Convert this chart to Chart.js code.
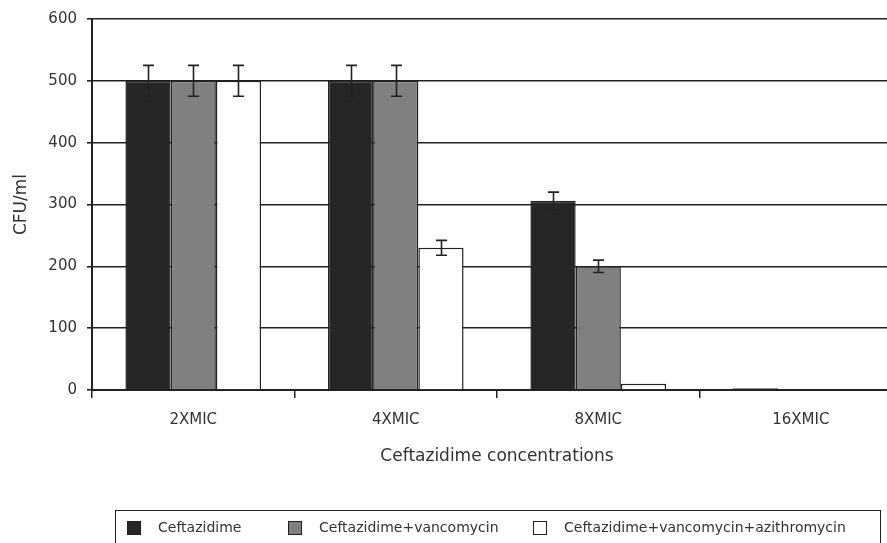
<!DOCTYPE html>
<html lang="en">
<head>
  <meta charset="UTF-8">
  <title>CFU/ml vs Ceftazidime concentrations</title>
  <script src="https://cdn.jsdelivr.net/npm/chart.js"></script>
  <style>
    body { margin: 0; overflow: hidden; background: white; font-family: "DejaVu Sans", sans-serif; }
    #wrap { position: relative; width: 887px; height: 543px; overflow: hidden; }
    #chart { position: absolute; left: 0; top: 0; }
    #legend {
      position: absolute; left: 115px; top: 510px; width: 766px; height: 40px;
      border: 1.5px solid #222; box-sizing: border-box; color: #333; font-size: 14px;
    }
    #legend span.sw { position: absolute; top: 10px; width: 14px; height: 14px; box-sizing: border-box; border: 1.5px solid #222; }
    #legend span.lb { position: absolute; top: 8px; white-space: nowrap; }
  </style>
</head>
<body>
<div id="wrap">
  <canvas id="chart" width="905" height="543"></canvas>
  <div id="legend"></div>
</div>

<script>
// data
let categories = ["2XMIC", "4XMIC", "8XMIC", "16XMIC"];
let seriesNames = ["Ceftazidime", "Ceftazidime+vancomycin", "Ceftazidime+vancomycin+azithromycin"];
let ceftazidime = [500, 500, 306, 3];
let ceftVanco = [500, 500, 200, 0];
let ceftVancoAzi = [500, 230, 10, 0];
let errCeftazidime = [25, 25, 14, 0];
let errCeftVanco = [25, 25, 10, 0];
let errCeftVancoAzi = [25, 12, 0, 0];
let yTicks = [0, 100, 200, 300, 400, 500, 600];

let fills = ["#262626", "#808080", "#ffffff"];
let lineCol = "#222";

// simple error bar plugin
const errorBars = {
  id: "errorBars",
  afterDatasetsDraw(chart) {
    const ctx = chart.ctx;
    const y = chart.scales.y;
    ctx.save();
    ctx.strokeStyle = lineCol;
    ctx.lineWidth = 1.6;
    chart.data.datasets.forEach((ds, di) => {
      const meta = chart.getDatasetMeta(di);
      meta.data.forEach((bar, i) => {
        const e = ds.errors[i];
        if (!e) return;
        const v = ds.data[i];
        const x = Math.round(bar.x) + 0.5;
        const yTop = y.getPixelForValue(v + e);
        const yBot = y.getPixelForValue(v - e);
        ctx.beginPath();
        ctx.moveTo(x, yTop); ctx.lineTo(x, yBot);
        ctx.moveTo(x - 5.5, yTop); ctx.lineTo(x + 5.5, yTop);
        ctx.moveTo(x - 5.5, yBot); ctx.lineTo(x + 5.5, yBot);
        ctx.stroke();
      });
    });
    ctx.restore();
  }
};

const ctx = document.getElementById("chart").getContext("2d");
new Chart(ctx, {
  type: "bar",
  data: {
    labels: categories,
    datasets: [
      { label: seriesNames[0], data: ceftazidime, errors: errCeftazidime, backgroundColor: fills[0] },
      { label: seriesNames[1], data: ceftVanco, errors: errCeftVanco, backgroundColor: fills[1] },
      { label: seriesNames[2], data: ceftVancoAzi, errors: errCeftVancoAzi, backgroundColor: fills[2] }
    ].map(d => Object.assign(d, { borderColor: lineCol, borderWidth: 1.5, borderSkipped: "bottom" }))
  },
  options: {
    responsive: false,
    animation: false,
    layout: { padding: { top: 16, right: 3, left: 0, bottom: 0 } },
    datasets: { bar: { categoryPercentage: 0.67, barPercentage: 1.0 } },
    plugins: { legend: { display: false }, tooltip: { enabled: false } },
    scales: {
      x: {
        afterFit(scale) { scale.height = 153; },
        grid: { drawOnChartArea: false, drawTicks: true, tickLength: 8, color: lineCol, lineWidth: 1.5, offset: true },
        border: { display: true, color: lineCol, width: 2 },
        ticks: { color: "#333", padding: 13, font: { family: "DejaVu Sans", size: 15 } },
        title: {
          display: true, text: "Ceftazidime concentrations", color: "#333",
          font: { family: "DejaVu Sans", size: 17 }, padding: { top: 0, bottom: 76 }
        }
      },
      y: {
        min: 0, max: 600,
        afterFit(scale) { scale.width = 92; },
        afterBuildTicks(scale) { scale.ticks = yTicks.map(v => ({ value: v })); },
        grid: { color: lineCol, lineWidth: 1.6, tickLength: 5 },
        border: { display: true, color: lineCol, width: 2 },
        ticks: { color: "#333", padding: 10, font: { family: "DejaVu Sans", size: 15 } },
        title: {
          display: true, text: "CFU/ml", color: "#333",
          font: { family: "DejaVu Sans", size: 17 }, padding: { top: 11, bottom: 0 }
        }
      }
    }
  },
  plugins: [errorBars]
});

// legend box (outside the canvas, like the original's framed key)
const legend = document.getElementById("legend");
const swX = [11, 172, 417];
seriesNames.forEach((name, i) => {
  const sw = document.createElement("span");
  sw.className = "sw";
  sw.style.left = swX[i] + "px";
  sw.style.background = fills[i];
  legend.appendChild(sw);
  const lb = document.createElement("span");
  lb.className = "lb";
  lb.style.left = (swX[i] + 31) + "px";
  lb.textContent = name;
  legend.appendChild(lb);
});
</script>
</body>
</html>
